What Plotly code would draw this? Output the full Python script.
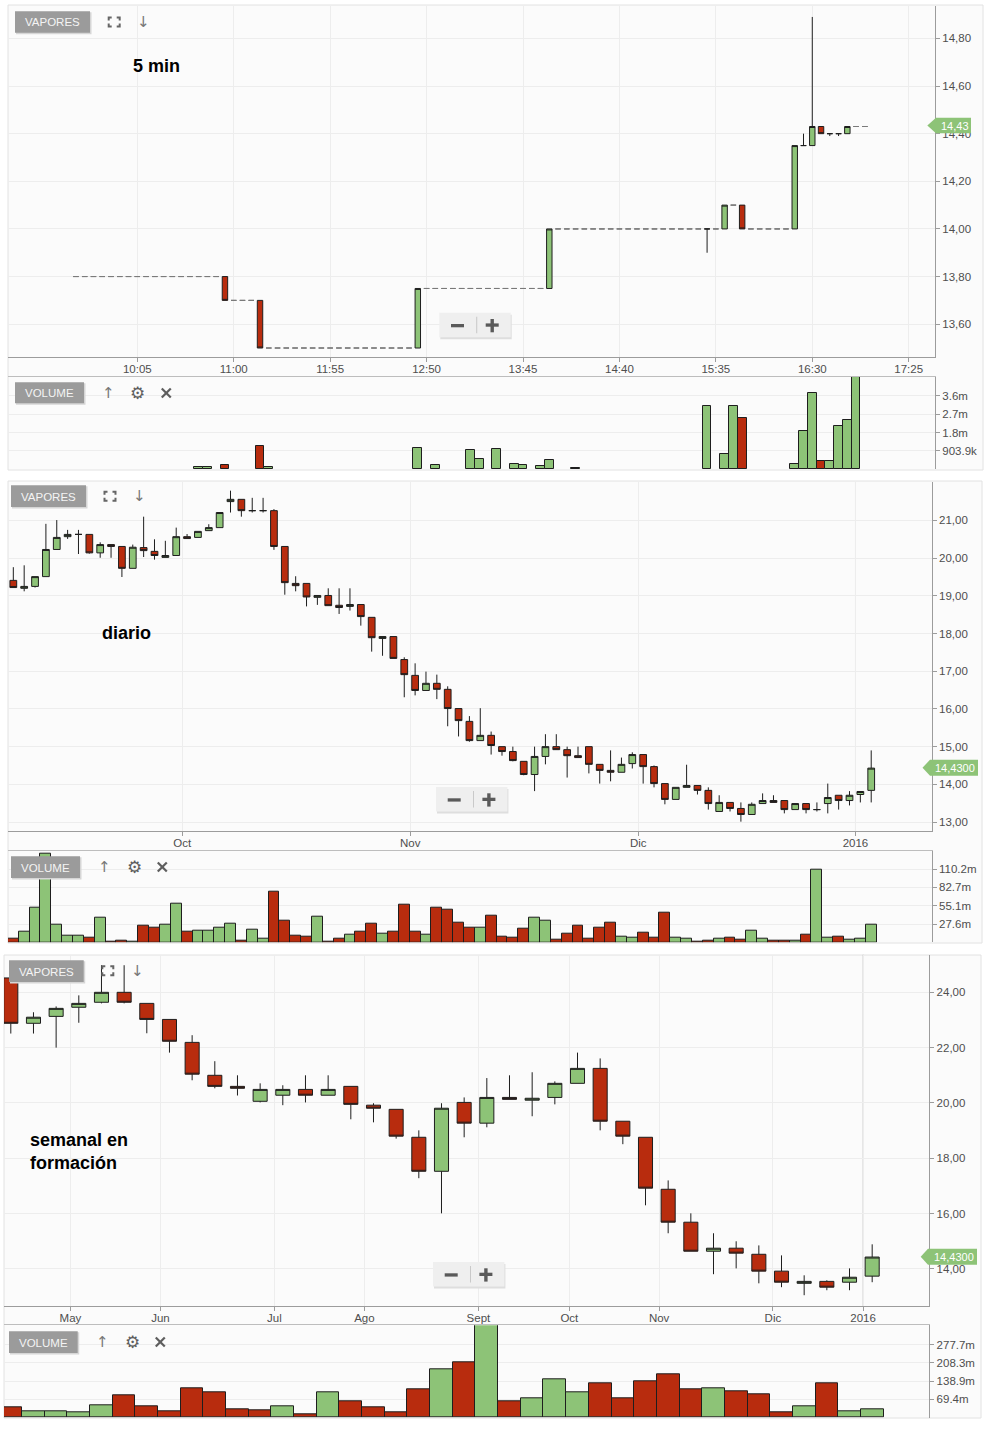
import plotly.graph_objects as go
import pandas as pd

W, H = 992, 1436
def fx(x): return x / W
def fy(y): return 1 - y / H

GREEN = '#8dc377'
RED = '#b82c0e'
OUT = '#1e1e1e'
FLAT = '#7a7a7a'
GRID = '#ededed'
AXIS = '#9c9c9c'
TXT = '#4e4e4e'

# ---------------- 5 min (one session) ----------------
day = '2016-01-05'
times5 = pd.date_range(f'{day} 09:30', f'{day} 17:00', freq='5min')
open5 = [13.80, 13.80, 13.80, 13.80, 13.80, 13.80, 13.80, 13.80, 13.80, 13.80,
         13.80, 13.80, 13.80, 13.80, 13.80, 13.80, 13.80, 13.80, 13.70, 13.70,
         13.70, 13.70, 13.50, 13.50, 13.50, 13.50, 13.50, 13.50, 13.50, 13.50,
         13.50, 13.50, 13.50, 13.50, 13.50, 13.50, 13.50, 13.50, 13.50, 13.50,
         13.75, 13.75, 13.75, 13.75, 13.75, 13.75, 13.75, 13.75, 13.75, 13.75,
         13.75, 13.75, 13.75, 13.75, 13.75, 14.00, 14.00, 14.00, 14.00, 14.00,
         14.00, 14.00, 14.00, 14.00, 14.00, 14.00, 14.00, 14.00, 14.00, 14.00,
         14.00, 14.00, 14.00, 14.00, 14.00, 14.10, 14.10, 14.00, 14.00, 14.00,
         14.00, 14.00, 14.00, 14.35, 14.35, 14.43, 14.40, 14.40, 14.40, 14.43,
         14.43]
high5 = [13.80, 13.80, 13.80, 13.80, 13.80, 13.80, 13.80, 13.80, 13.80, 13.80,
         13.80, 13.80, 13.80, 13.80, 13.80, 13.80, 13.80, 13.80, 13.70, 13.70,
         13.70, 13.70, 13.50, 13.50, 13.50, 13.50, 13.50, 13.50, 13.50, 13.50,
         13.50, 13.50, 13.50, 13.50, 13.50, 13.50, 13.50, 13.50, 13.50, 13.75,
         13.75, 13.75, 13.75, 13.75, 13.75, 13.75, 13.75, 13.75, 13.75, 13.75,
         13.75, 13.75, 13.75, 13.75, 14.00, 14.00, 14.00, 14.00, 14.00, 14.00,
         14.00, 14.00, 14.00, 14.00, 14.00, 14.00, 14.00, 14.00, 14.00, 14.00,
         14.00, 14.00, 14.00, 14.00, 14.10, 14.10, 14.10, 14.00, 14.00, 14.00,
         14.00, 14.00, 14.35, 14.40, 14.89, 14.43, 14.40, 14.40, 14.43, 14.43,
         14.43]
low5 = [13.80, 13.80, 13.80, 13.80, 13.80, 13.80, 13.80, 13.80, 13.80, 13.80,
        13.80, 13.80, 13.80, 13.80, 13.80, 13.80, 13.80, 13.70, 13.70, 13.70,
        13.70, 13.50, 13.50, 13.50, 13.50, 13.50, 13.50, 13.50, 13.50, 13.50,
        13.50, 13.50, 13.50, 13.50, 13.50, 13.50, 13.50, 13.50, 13.50, 13.50,
        13.75, 13.75, 13.75, 13.75, 13.75, 13.75, 13.75, 13.75, 13.75, 13.75,
        13.75, 13.75, 13.75, 13.75, 13.75, 14.00, 14.00, 14.00, 14.00, 14.00,
        14.00, 14.00, 14.00, 14.00, 14.00, 14.00, 14.00, 14.00, 14.00, 14.00,
        14.00, 14.00, 13.90, 14.00, 14.00, 14.10, 14.00, 14.00, 14.00, 14.00,
        14.00, 14.00, 14.00, 14.35, 14.35, 14.40, 14.39, 14.39, 14.40, 14.43,
        14.43]
close5 = [13.80, 13.80, 13.80, 13.80, 13.80, 13.80, 13.80, 13.80, 13.80, 13.80,
          13.80, 13.80, 13.80, 13.80, 13.80, 13.80, 13.80, 13.70, 13.70, 13.70,
          13.70, 13.50, 13.50, 13.50, 13.50, 13.50, 13.50, 13.50, 13.50, 13.50,
          13.50, 13.50, 13.50, 13.50, 13.50, 13.50, 13.50, 13.50, 13.50, 13.75,
          13.75, 13.75, 13.75, 13.75, 13.75, 13.75, 13.75, 13.75, 13.75, 13.75,
          13.75, 13.75, 13.75, 13.75, 14.00, 14.00, 14.00, 14.00, 14.00, 14.00,
          14.00, 14.00, 14.00, 14.00, 14.00, 14.00, 14.00, 14.00, 14.00, 14.00,
          14.00, 14.00, 14.00, 14.00, 14.10, 14.10, 14.00, 14.00, 14.00, 14.00,
          14.00, 14.00, 14.35, 14.35, 14.43, 14.40, 14.40, 14.40, 14.43, 14.43,
          14.43]
vol5_m = [0, 0, 0, 0, 0, 0, 0, 0, 0, 0,
          0, 0, 0, 0, 0.10, 0.10, 0, 0.20, 0, 0,
          0, 1.17, 0.10, 0, 0, 0, 0, 0, 0, 0,
          0, 0, 0, 0, 0, 0, 0, 0, 0, 1.03,
          0, 0.20, 0, 0, 0, 0.93, 0.49, 0, 1.00, 0,
          0.28, 0.23, 0, 0.18, 0.47, 0, 0, 0.08, 0, 0,
          0, 0, 0, 0, 0, 0, 0, 0, 0, 0,
          0, 0, 3.13, 0, 0.74, 3.13, 2.55, 0, 0, 0,
          0, 0, 0.25, 1.90, 3.77, 0.43, 0.43, 2.14, 2.44, 4.60,
          0]
ticks5 = ['10:05', '11:00', '11:55', '12:50', '13:45', '14:40', '15:35', '16:30', '17:25']

# ---------------- daily ----------------
open_d = [19.41, 19.20, 19.25, 19.51, 20.23, 20.57, 20.63, 20.63, 20.14, 20.36,
          20.31, 19.73, 20.28, 20.18, 20.02, 20.07, 20.57, 20.55, 20.73, 20.81,
          21.50, 21.56, 21.26, 21.26, 21.26, 20.31, 19.33, 19.33, 18.96, 19.01,
          18.75, 18.72, 18.77, 18.43, 17.87, 17.92, 17.31, 16.89, 16.49, 16.68,
          16.52, 16.01, 15.67, 15.16, 15.30, 15.00, 14.87, 14.61, 14.26, 14.74,
          15.00, 14.92, 14.76, 15.00, 14.53, 14.37, 14.32, 14.55, 14.79, 14.47,
          14.02, 13.60, 13.92, 13.97, 13.84, 13.28, 13.52, 13.36, 13.20, 13.49,
          13.57, 13.57, 13.33, 13.49, 13.33, 13.49, 13.71, 13.57, 13.73, 13.84]
high_d = [19.76, 19.81, 19.51, 20.91, 21.01, 20.75, 20.75, 20.63, 20.42, 20.36,
          20.31, 20.36, 21.10, 20.50, 20.46, 20.81, 20.64, 20.71, 20.90, 21.21,
          21.79, 21.56, 21.60, 21.60, 21.30, 20.31, 19.52, 19.33, 19.01, 19.20,
          19.20, 19.20, 18.77, 18.43, 17.92, 17.92, 17.37, 17.21, 16.99, 16.91,
          16.60, 16.01, 15.81, 16.02, 15.40, 15.00, 15.00, 14.61, 15.00, 15.33,
          15.33, 15.00, 15.00, 15.00, 14.53, 14.90, 14.71, 14.85, 14.79, 14.50,
          14.02, 13.92, 14.52, 13.97, 13.92, 13.71, 13.52, 13.52, 13.52, 13.76,
          13.71, 13.57, 13.49, 13.49, 13.52, 14.02, 13.71, 13.82, 13.81, 14.90]
low_d = [19.22, 19.12, 19.22, 19.51, 20.23, 20.51, 20.11, 20.12, 20.01, 20.01,
         19.50, 19.73, 20.03, 19.96, 20.02, 20.07, 20.52, 20.55, 20.73, 20.81,
         21.21, 21.10, 21.21, 21.21, 20.22, 19.03, 19.12, 18.72, 18.76, 18.74,
         18.52, 18.61, 18.21, 17.52, 17.41, 17.34, 16.31, 16.36, 16.49, 16.26,
         15.54, 15.27, 15.13, 15.16, 14.79, 14.76, 14.61, 14.24, 13.82, 14.53,
         14.92, 14.18, 14.71, 14.29, 14.02, 14.08, 14.32, 14.42, 14.02, 13.92,
         13.47, 13.60, 13.92, 13.73, 13.33, 13.28, 13.28, 13.01, 13.20, 13.49,
         13.52, 13.23, 13.33, 13.23, 13.28, 13.23, 13.33, 13.44, 13.52, 13.52]
close_d = [19.22, 19.25, 19.51, 20.23, 20.55, 20.63, 20.63, 20.14, 20.36, 20.31,
           19.73, 20.29, 20.20, 20.07, 20.07, 20.57, 20.52, 20.71, 20.81, 21.21,
           21.56, 21.26, 21.26, 21.26, 20.31, 19.35, 19.27, 18.97, 19.01, 18.74,
           18.69, 18.77, 18.45, 17.89, 17.92, 17.34, 16.91, 16.49, 16.68, 16.52,
           16.01, 15.69, 15.16, 15.30, 15.03, 14.87, 14.63, 14.26, 14.74, 15.00,
           14.92, 14.76, 14.71, 14.53, 14.37, 14.32, 14.53, 14.79, 14.47, 14.02,
           13.60, 13.92, 13.97, 13.84, 13.49, 13.52, 13.36, 13.20, 13.47, 13.57,
           13.52, 13.33, 13.49, 13.33, 13.33, 13.65, 13.57, 13.71, 13.81, 14.43]
vol_d_m = [6.0, 15.5, 52.7, 133.0, 27.0, 10.5, 10.5, 7.5, 37.6, 0.8,
           2.0, 0.8, 25.6, 22.6, 27.0, 58.7, 16.6, 18.0, 18.0, 22.6,
           28.6, 2.6, 19.6, 6.0, 76.7, 33.1, 10.5, 9.0, 39.0, 0.8,
           6.0, 12.0, 16.6, 28.6, 13.5, 16.6, 57.2, 16.6, 12.0, 52.7,
           49.7, 30.1, 22.6, 22.6, 40.6, 9.0, 7.5, 21.0, 37.6, 33.1,
           4.5, 13.5, 25.6, 6.0, 22.6, 30.1, 9.0, 7.5, 14.6, 7.5,
           45.1, 7.5, 6.0, 1.5, 3.0, 6.0, 7.5, 4.5, 18.0, 6.0,
           3.0, 3.0, 3.0, 12.0, 109.9, 7.5, 9.0, 4.5, 6.0, 27.0]
months_d = ['Oct', 'Nov', 'Dic', '2016']

# ---------------- weekly ----------------
open_w = [24.52, 22.88, 23.13, 23.46, 23.64, 24.00, 23.60, 23.02, 22.19, 21.00,
          20.60, 20.06, 20.28, 20.49, 20.28, 20.60, 19.92, 19.77, 18.76, 17.53,
          20.02, 19.27, 20.20, 20.10, 20.20, 20.71, 21.25, 19.34, 18.76, 16.88,
          15.69, 14.64, 14.75, 14.53, 13.92, 13.48, 13.55, 13.52, 13.74]
high_w = [24.52, 23.28, 23.49, 23.89, 24.98, 24.98, 23.60, 23.02, 22.45, 21.51,
          21.00, 20.71, 20.64, 21.00, 21.00, 20.60, 19.99, 19.77, 19.01, 19.99,
          20.20, 20.90, 21.00, 21.11, 20.78, 21.82, 21.61, 19.34, 18.76, 17.20,
          16.01, 15.29, 15.00, 14.85, 14.49, 13.77, 13.59, 14.02, 14.89]
low_w = [22.51, 22.51, 22.00, 22.90, 23.60, 23.60, 22.52, 21.82, 20.82, 20.53,
         20.27, 20.02, 19.92, 20.02, 20.28, 19.41, 19.30, 18.71, 17.28, 16.01,
         18.76, 19.12, 20.13, 19.52, 19.95, 20.71, 19.01, 18.51, 16.30, 15.29,
         14.64, 13.81, 14.02, 13.48, 13.34, 13.05, 13.23, 13.23, 13.52]
close_w = [22.88, 23.10, 23.42, 23.60, 24.00, 23.64, 23.02, 22.23, 21.04, 20.60,
           20.53, 20.49, 20.49, 20.28, 20.49, 19.95, 19.81, 18.80, 17.53, 19.81,
           19.27, 20.20, 20.13, 20.17, 20.71, 21.25, 19.34, 18.80, 16.92, 15.69,
           14.64, 14.75, 14.57, 13.92, 13.52, 13.55, 13.34, 13.70, 14.43]
vol_w_m = [38.8, 23.5, 23.5, 19.7, 46.4, 84.4, 42.6, 23.5, 111.0, 96.0,
           31.2, 27.4, 42.7, 12.2, 96.0, 61.7, 38.8, 19.7, 107.9, 183.6,
           210.3, 360.0, 61.8, 73.2, 145.7, 96.1, 130.5, 73.2, 138.1, 164.8,
           107.6, 111.4, 100.0, 88.5, 19.8, 42.7, 130.5, 23.7, 31.3]
months_w = ['May', 'Jun', 'Jul', 'Ago', 'Sept', 'Oct', 'Nov', 'Dic', '2016']


def vol_colors(o, c):
    cols = []
    for i in range(len(c)):
        ref = c[i - 1] if i > 0 else o[i]
        cols.append(GREEN if c[i] >= ref else RED)
    return cols


def candle(x, o, h, l, c, xa, ya, line=OUT):
    return go.Candlestick(
        x=x, open=o, high=h, low=l, close=c, xaxis=xa, yaxis=ya,
        increasing=dict(line=dict(color=line, width=1), fillcolor=GREEN),
        decreasing=dict(line=dict(color=line, width=1), fillcolor=RED),
        whiskerwidth=0, showlegend=False, hoverinfo='skip')


def volbar(x, v_m, cols, xa, ya):
    return go.Bar(x=x, y=[v * 1e6 if v > 0 else None for v in v_m], xaxis=xa, yaxis=ya,
                  marker=dict(color=cols, line=dict(color=OUT, width=1)),
                  showlegend=False, hoverinfo='skip')


fig = go.Figure()

# --- 5 min: trading candles and flat (no range) candles
idx_flat = [i for i in range(len(times5))
            if open5[i] == high5[i] == low5[i] == close5[i]]
idx_move = [i for i in range(len(times5)) if i not in idx_flat]
sel = lambda arr, idx: [arr[i] for i in idx]
fig.add_trace(candle(sel(list(times5), idx_flat), sel(open5, idx_flat), sel(high5, idx_flat),
                     sel(low5, idx_flat), sel(close5, idx_flat), 'x', 'y', line=FLAT))
fig.add_trace(candle(sel(list(times5), idx_move), sel(open5, idx_move), sel(high5, idx_move),
                     sel(low5, idx_move), sel(close5, idx_move), 'x', 'y'))
fig.add_trace(volbar(times5, vol5_m, vol_colors(open5, close5), 'x2', 'y2'))

# --- daily
xd = list(range(len(close_d)))
fig.add_trace(candle(xd, open_d, high_d, low_d, close_d, 'x3', 'y3'))
fig.add_trace(volbar(xd, vol_d_m, vol_colors(open_d, close_d), 'x4', 'y4'))

# --- weekly
xw = list(range(len(close_w)))
fig.add_trace(candle(xw, open_w, high_w, low_w, close_w, 'x5', 'y5'))
fig.add_trace(volbar(xw, vol_w_m, vol_colors(open_w, close_w), 'x6', 'y6'))

TF = dict(family='Liberation Sans, Arial, sans-serif', size=11.5, color=TXT)


def main_x(dom, anchor, **kw):
    d = dict(domain=dom, anchor=anchor, showgrid=True, gridcolor=GRID, gridwidth=1,
             showline=True, linecolor=AXIS, linewidth=1, ticks='outside', ticklen=4,
             tickcolor=AXIS, tickfont=TF, zeroline=False, rangeslider=dict(visible=False),
             fixedrange=True, ticklabelstandoff=-3)
    d.update(kw)
    return d


def vol_x(dom, anchor, match):
    return dict(domain=dom, anchor=anchor, matches=match, showgrid=False, showline=True,
                side='top', linecolor='#bdbdbd', linewidth=1, ticks='', showticklabels=False,
                zeroline=False)


def right_y(dom, anchor, rng, **kw):
    d = dict(domain=dom, anchor=anchor, side='right', range=rng, showgrid=True, gridcolor=GRID,
             showline=True, linecolor=AXIS, linewidth=1, ticks='outside', ticklen=4,
             tickcolor=AXIS, tickfont=TF, zeroline=False, fixedrange=True)
    d.update(kw)
    return d


fig.update_layout(
    width=W, height=H, margin=dict(l=0, r=0, t=0, b=0),
    paper_bgcolor='white', plot_bgcolor='rgba(0,0,0,0)',
    separators=',.', bargap=0, boxgap=0.38, boxgroupgap=0,
    showlegend=False,
    xaxis=main_x([fx(8), fx(935)], 'y', type='date',
                 range=[f'{day} 08:51:15', f'{day} 17:40:00'],
                 tickvals=[f'{day} {t}' for t in ticks5], ticktext=ticks5),
    yaxis=right_y([fy(357.3), fy(6)], 'x', [13.461, 14.936],
                  tickvals=[13.6, 13.8, 14.0, 14.2, 14.4, 14.6, 14.8], tickformat='.2f'),
    xaxis2=vol_x([fx(8), fx(935)], 'y2', 'x'),
    yaxis2=right_y([fy(469.3), fy(377)], 'x2', [0, 4.55e6],
                   tickvals=[903.9e3, 1807.8e3, 2711.7e3, 3615.6e3],
                   ticktext=['903.9k', '1.8m', '2.7m', '3.6m']),
    xaxis3=main_x([fx(8), fx(931.7)], 'y3', range=[-0.49, 84.57],
                  tickvals=[15.55, 36.55, 57.55, 77.55], ticktext=months_d),
    yaxis3=right_y([fy(830.7), fy(482)], 'x3', [12.77, 22.02],
                   tickvals=[13, 14, 15, 16, 17, 18, 19, 20, 21], tickformat='.2f'),
    xaxis4=vol_x([fx(8), fx(931.7)], 'y4', 'x3'),
    yaxis4=right_y([fy(942.3), fy(850.7)], 'x4', [0, 137.9e6],
                   tickvals=[27.55e6, 55.1e6, 82.65e6, 110.2e6],
                   ticktext=['27.6m', '55.1m', '82.7m', '110.2m']),
    xaxis5=main_x([fx(4), fx(929.3)], 'y5', range=[-0.30, 40.52],
                  tickvals=[2.63, 6.6, 11.63, 15.6, 20.63, 24.64, 28.6, 33.62, 37.6],
                  ticktext=months_w),
    yaxis5=right_y([fy(1306), fy(954.7)], 'x5', [12.66, 25.36],
                   tickvals=[14, 16, 18, 20, 22, 24], tickformat='.2f'),
    xaxis6=vol_x([fx(4), fx(929.3)], 'y6', 'x5'),
    yaxis6=right_y([fy(1417.5), fy(1325.3)], 'x6', [0, 351.7e6],
                   tickvals=[69.43e6, 138.85e6, 208.28e6, 277.7e6],
                   ticktext=['69.4m', '138.9m', '208.3m', '277.7m']),
)

shapes = []
ann = []


def rect(x0, y0, x1, y1, fill, line=None, layer='above', lw=1):
    shapes.append(dict(type='rect', xref='paper', yref='paper', x0=fx(x0), x1=fx(x1),
                       y0=fy(y1), y1=fy(y0), fillcolor=fill, layer=layer,
                       line=dict(color=line or fill, width=lw if line else 0)))


def path(points, fill=None, line=None, lw=1, closed=True):
    d = ''
    for k, (x, y) in enumerate(points):
        d += ('M' if k == 0 else 'L') + f'{fx(x):.6f},{fy(y):.6f} '
    if closed:
        d += 'Z'
    s = dict(type='path', xref='paper', yref='paper', path=d, layer='above')
    if fill:
        s['fillcolor'] = fill
    s['line'] = dict(color=line or 'rgba(0,0,0,0)', width=lw if line else 0)
    shapes.append(s)


def text(x, y, t, size=12, color='#666', family='DejaVu Sans, sans-serif', xanchor='center',
         align='center'):
    ann.append(dict(x=fx(x), y=fy(y), xref='paper', yref='paper', text=t, showarrow=False,
                    xanchor=xanchor, yanchor='middle', align=align,
                    font=dict(size=size, color=color, family=family)))


# section containers (background + light frame)
rect(8, 5, 983, 470, '#fbfbfb', '#e2e2e2', layer='below')
rect(8, 481, 982, 943, '#fbfbfb', '#e2e2e2', layer='below')
rect(4, 955, 981, 1418, '#fbfbfb', '#e2e2e2', layer='below')

# year separators
shapes.append(dict(type='line', xref='x3', yref='y3 domain', x0=77.55, x1=77.55, y0=0, y1=1,
                   line=dict(color='#c6c6c6', width=1), layer='below'))
shapes.append(dict(type='line', xref='x5', yref='y5 domain', x0=37.6, x1=37.6, y0=0, y1=1,
                   line=dict(color='#c6c6c6', width=1), layer='below'))


def badge(x0, y0, x1, y1, label):
    rect(x0 + 1, y0 + 1, x1 + 1.5, y1 + 1.5, '#d6d6d6')
    rect(x0, y0, x1, y1, '#9b9b9b')
    text((x0 + x1) / 2, (y0 + y1) / 2 + 0.5, label, size=11.5, color='#f4f4f4',
         family='Liberation Sans, Arial, sans-serif')


def expand_icon(cx, cy):
    x0, x1, y0, y1, a = cx - 5.5, cx + 5.5, cy - 4.5, cy + 4.5, 3
    for pts in ([(x0, y0 + a), (x0, y0), (x0 + a, y0)],
                [(x1 - a, y0), (x1, y0), (x1, y0 + a)],
                [(x1, y1 - a), (x1, y1), (x1 - a, y1)],
                [(x0 + a, y1), (x0, y1), (x0, y1 - a)]):
        path(pts, line='#666666', lw=2, closed=False)


def cross_icon(cx, cy, r=4.5):
    path([(cx - r, cy - r), (cx + r, cy + r)], line='#5e5e5e', lw=2.2, closed=False)
    path([(cx - r, cy + r), (cx + r, cy - r)], line='#5e5e5e', lw=2.2, closed=False)


def vol_icons(y, xu, xg, xx):
    text(xu, y, '↑', size=15, color='#777')
    text(xg, y, '⚙', size=17, color='#5e5e5e')
    cross_icon(xx, y)


def zoom_ctrl(x0, y0):
    w, h = 71.4, 24.6
    rect(x0 + 1, y0 + 2, x0 + w + 1, y0 + h + 2, '#dedede')
    rect(x0, y0, x0 + w, y0 + h, '#efefef')
    rect(x0 + 11.7, y0 + 11.3, x0 + 24.7, y0 + 14.6, '#5a5a5a')
    rect(x0 + 46.4, y0 + 10.7, x0 + 59.4, y0 + 14.0, '#5a5a5a')
    rect(x0 + 51.2, y0 + 6.3, x0 + 54.6, y0 + 19.6, '#5a5a5a')
    rect(x0 + 37.0, y0 + 4.0, x0 + 37.9, y0 + 20.6, '#c4c4c4')


def price_tag(xp, xb, x1, y0, y1, label):
    ym = (y0 + y1) / 2
    path([(xp, ym), (xb, y0), (x1, y0), (x1, y1), (xb, y1)], fill='#8dc377')
    text((xb + x1) / 2 + 1, ym + 0.5, label, size=11, color='white',
         family='Liberation Sans, Arial, sans-serif')


# section 1 : 5 min
badge(15, 11.3, 90, 32.7, 'VAPORES')
expand_icon(114.2, 22)
text(143.3, 22, '↓', size=15, color='#777')
badge(15, 382.3, 84, 403.3, 'VOLUME')
vol_icons(393, 108.3, 137.7, 166.3)
zoom_ctrl(439.3, 312.7)
price_tag(927.3, 936, 971, 117.7, 133.3, '14,43')
text(130.5, 66, '<b>5 min</b>', size=18, color='#000',
     family='Liberation Sans, Arial, sans-serif', xanchor='left')

# section 2 : daily
badge(11, 485.3, 86, 507, 'VAPORES')
expand_icon(110, 496.3)
text(139.3, 496, '↓', size=15, color='#777')
badge(11, 856.3, 80, 878, 'VOLUME')
vol_icons(867, 104.3, 134, 162.3)
zoom_ctrl(436, 787)
price_tag(922.5, 930, 978, 759.7, 775.7, '14,4300')
text(100, 633.3, '<b>diario</b>', size=18, color='#000',
     family='Liberation Sans, Arial, sans-serif', xanchor='left')

# section 3 : weekly
badge(9, 960.3, 83.7, 982, 'VAPORES')
expand_icon(107.8, 970.8)
text(137.3, 971, '↓', size=15, color='#777')
badge(9, 1331.3, 77.7, 1353, 'VOLUME')
vol_icons(1342, 102.3, 132, 160.3)
zoom_ctrl(433, 1262)
price_tag(920.7, 928, 977, 1248.7, 1264.7, '14,4300')
text(28, 1151.5, '<b>semanal en<br>formación</b>', size=18, color='#000',
     family='Liberation Sans, Arial, sans-serif', xanchor='left', align='left')

fig.update_layout(shapes=shapes, annotations=ann)

fig.write_html('out.html', config={'displayModeBar': False},
               post_script="document.body.style.margin='0px';document.body.style.overflow='hidden';")
